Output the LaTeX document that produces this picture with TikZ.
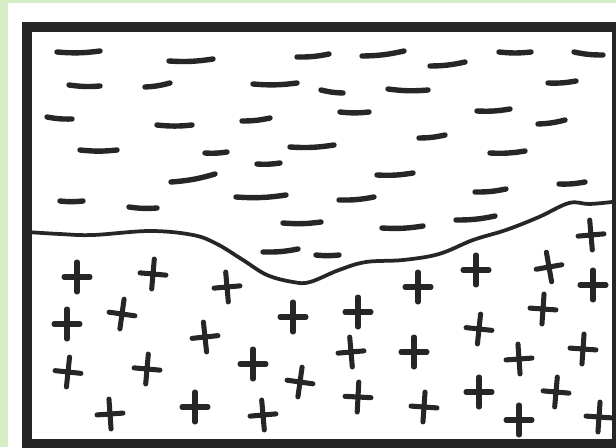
\documentclass[tikz,border=0pt]{standalone}
\usepackage{tikz}
\definecolor{sketchGreen}{HTML}{D6ECC4}
\definecolor{sketchInk}{HTML}{262626}

\begin{document}
\begin{tikzpicture}[x=0.03cm,y=-0.03cm,
  box/.style={draw=sketchInk,line width=8.5pt},
  negmark/.style={draw=sketchInk,line width=4.6pt,line cap=round},
  posmark/.style={draw=sketchInk,line width=4.3pt,line cap=round},
  surface/.style={draw=sketchInk,line width=3.2pt,line cap=round}]
  % background and paper
  \fill[sketchGreen] (0,0) rectangle (616,447);
  \useasboundingbox (0,0) rectangle (616,447);
  \clip (0,0) rectangle (616,447);
  \fill[white] (8,3) rectangle (616,447);
  % upper part: minus signs
  \foreach \xa/\ya/\xb/\yb in {57/52/100/51, 169/61/213/59, 297/57/329/54,
      362/56/404/51, 430/66/465/62, 499/52/531/52, 574/52/603/55,
      69/85/100/86, 145/87/170/83, 253/84/297/83, 321/90/343/93,
      388/89/428/90, 548/83/576/81, 47/117/72/119, 157/125/192/125,
      242/121/270/118, 340/112/369/112, 477/111/510/109, 538/124/565/120,
      80/150/117/150, 205/153/227/152, 290/147/334/145, 419/138/445/135,
      490/153/525/151, 257/164/280/163, 171/182/215/174, 377/175/413/173,
      559/184/585/182, 60/201/83/201, 129/207/157/208, 236/197/286/195,
      339/200/374/197, 475/192/506/189, 283/223/321/222, 382/228/423/226,
      456/220/495/216, 263/252/298/249, 316/255/339/255}
    \draw[negmark] (\xa,\ya) to[bend right=6] (\xb,\yb);
  % boundary line
  \draw[surface] plot[smooth,tension=0.6] coordinates {(27,232) (60,234)
    (93,235) (150,231) (193,235) (217,244) (243,260) (267,275) (293,282)
    (310,282) (339,270) (366,262) (403,260) (439,254) (473,240) (506,230)
    (539,217) (569,203) (589,204) (612,202)};
  % lower part: plus signs
  \foreach \x/\y/\r in {77/277/0, 153/274/-5, 227/287/5, 67/324/0,
      122/314/-8, 205/337/6, 293/317/0, 68/372/-6, 147/369/-5,
      253/364/0, 300/382/-8, 110/414/4, 195/407/0, 263/415/5,
      591/235/5, 549/267/10, 476/270/0, 418/287/0, 593/285/0,
      358/312/0, 543/309/-4, 479/329/-6, 351/352/5, 414/352/0,
      519/359/4, 583/349/-4, 358/397/-3, 424/407/-4, 479/392/0,
      556/392/-5, 519/420/0, 599/417/-4}
    \draw[posmark,rotate around={\r:(\x,\y)}]
      (\x-13,\y) -- (\x+13,\y) (\x,\y-15) -- (\x,\y+15);
  % frame
  \draw[box] (27,27) rectangle (617,444);
\end{tikzpicture}
\end{document}
